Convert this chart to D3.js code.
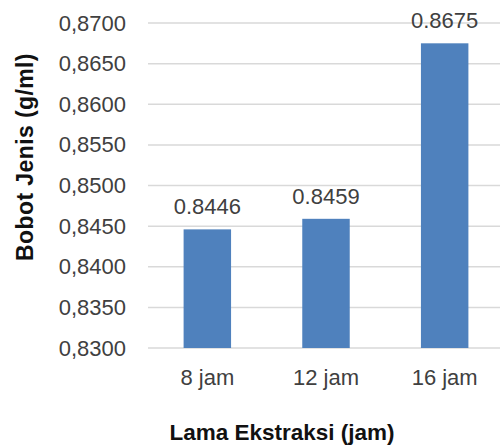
<!DOCTYPE html>
<html>
<head>
<meta charset="utf-8">
<script src="https://cdn.jsdelivr.net/npm/d3@7"></script>
<style>
  html, body { margin: 0; padding: 0; background: #fff; }
  svg { display: block; font-family: "Liberation Sans", Arial, sans-serif; }
</style>
</head>
<body>
<svg id="chart" width="500" height="446"></svg>
<script>
// Bobot jenis (g/ml) per lama ekstraksi
const categories = ["8 jam", "12 jam", "16 jam"];
const values = [0.8446, 0.8459, 0.8675];
const valueLabels = ["0.8446", "0.8459", "0.8675"];
const yTicks = [0.83, 0.835, 0.84, 0.845, 0.85, 0.855, 0.86, 0.865, 0.87];
const yTitle = "Bobot Jenis (g/ml)";
const xTitle = "Lama Ekstraksi (jam)";

const svg = d3.select("#chart");
const plot = { left: 148, right: 504, top: 23, bottom: 348 };

const x = d3.scaleBand().domain(categories).range([plot.left, plot.right]).padding(0);
const y = d3.scaleLinear().domain([0.83, 0.87]).range([plot.bottom, plot.top]);
const barW = x.bandwidth() * 0.4;

// horizontal gridlines (the lowest one doubles as the baseline)
svg.append("g")
  .selectAll("line")
  .data(yTicks)
  .join("line")
  .attr("x1", plot.left)
  .attr("x2", plot.right)
  .attr("y1", d => y(d))
  .attr("y2", d => y(d))
  .attr("stroke", "#d9d9d9")
  .attr("stroke-width", 1.5);

// y axis tick labels with comma decimal separator
const fmt = d => d3.format(".4f")(d).replace(".", ",");
const yAxis = d3.axisLeft(y).tickValues(yTicks).tickFormat(fmt).tickSize(0).tickPadding(22);
const gy = svg.append("g").attr("transform", `translate(${plot.left},0)`).call(yAxis);
gy.select(".domain").remove();
gy.selectAll("text")
  .attr("font-family", "Liberation Sans, Arial, sans-serif")
  .attr("font-size", 22)
  .attr("fill", "#404040");

// bars
svg.append("g")
  .selectAll("rect")
  .data(values)
  .join("rect")
  .attr("x", (d, i) => x(categories[i]) + x.bandwidth() / 2 - barW / 2)
  .attr("width", barW)
  .attr("y", d => y(d))
  .attr("height", d => y(0.83) - y(d))
  .attr("fill", "#4f81bd");

// value labels above bars
svg.append("g")
  .selectAll("text")
  .data(values)
  .join("text")
  .attr("x", (d, i) => x(categories[i]) + x.bandwidth() / 2)
  .attr("y", d => y(d) - 15)
  .attr("text-anchor", "middle")
  .attr("font-size", 22)
  .attr("fill", "#404040")
  .text((d, i) => valueLabels[i]);

// x axis category labels
const xAxis = d3.axisBottom(x).tickSize(0).tickPadding(21);
const gx = svg.append("g").attr("transform", `translate(0,${plot.bottom})`).call(xAxis);
gx.select(".domain").remove();
gx.selectAll("text")
  .attr("font-family", "Liberation Sans, Arial, sans-serif")
  .attr("font-size", 22)
  .attr("fill", "#404040");

// axis titles
svg.append("text")
  .attr("transform", "translate(33,157) rotate(-90)")
  .attr("text-anchor", "middle")
  .attr("font-size", 23)
  .attr("font-weight", "bold")
  .attr("letter-spacing", 0.4)
  .attr("fill", "#111")
  .text(yTitle);

svg.append("text")
  .attr("x", 282)
  .attr("y", 440)
  .attr("text-anchor", "middle")
  .attr("font-size", 22.5)
  .attr("font-weight", "bold")
  .attr("fill", "#111")
  .text(xTitle);
</script>
</body>
</html>
